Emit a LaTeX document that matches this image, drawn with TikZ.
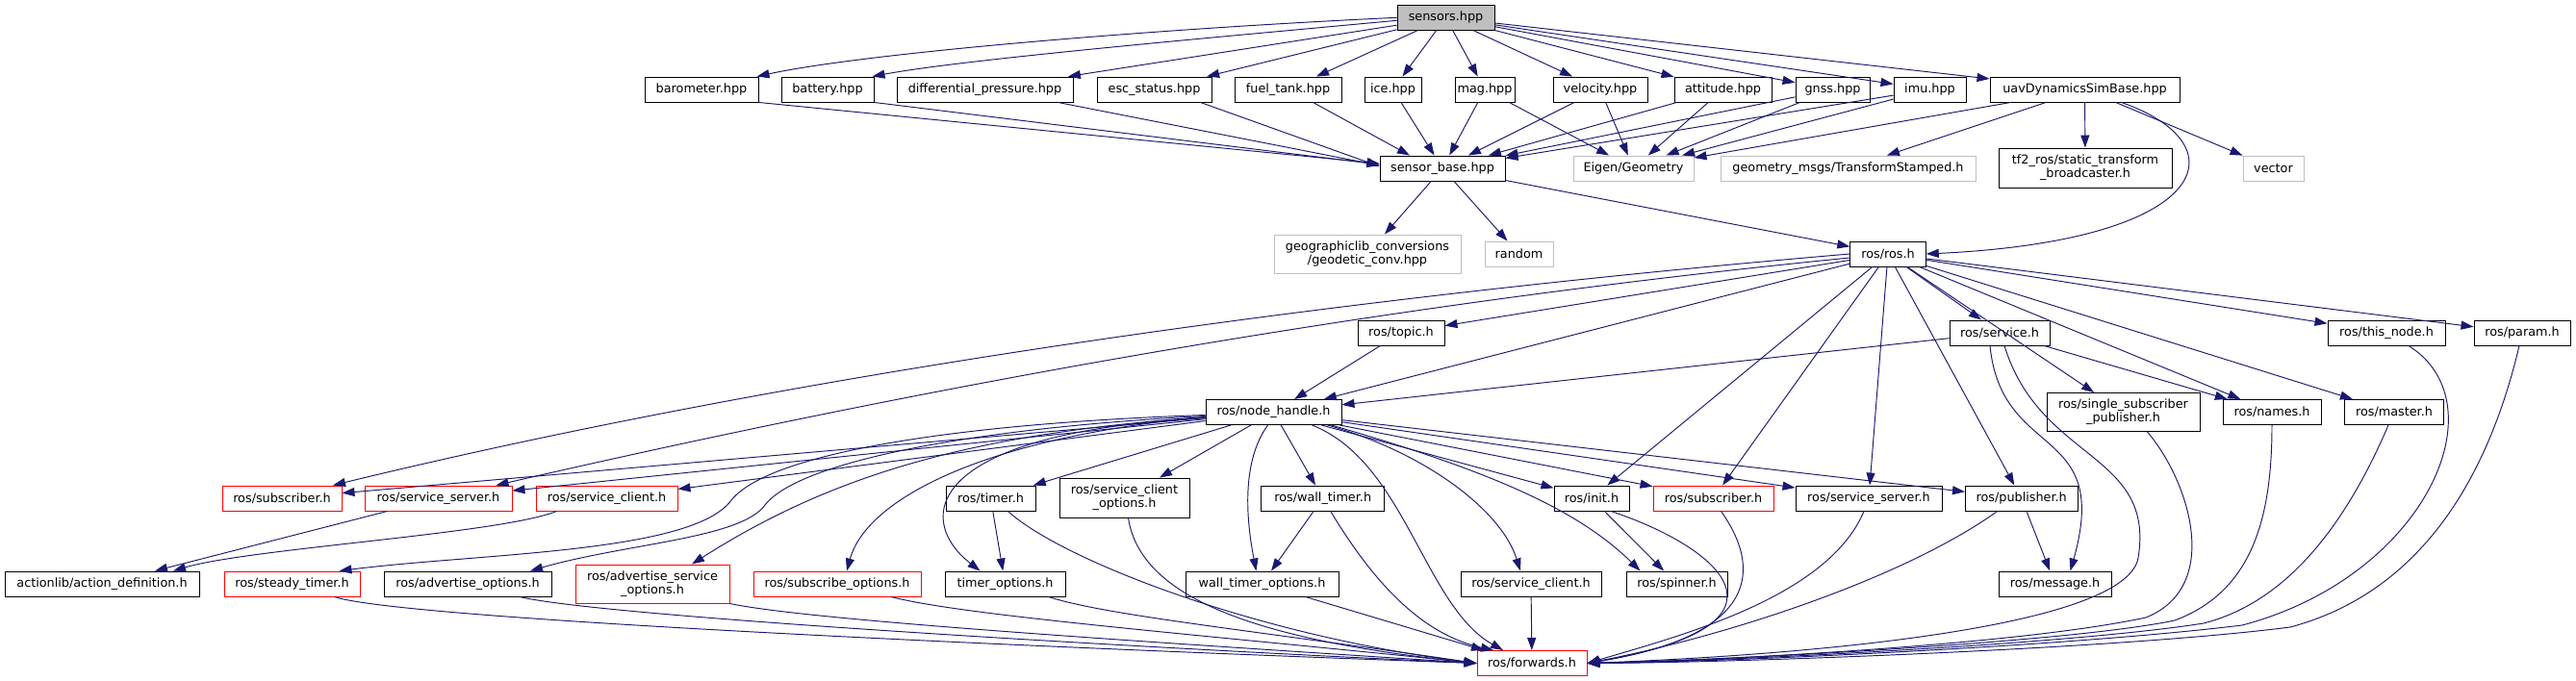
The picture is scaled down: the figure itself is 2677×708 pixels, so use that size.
\documentclass[tikz,border=0pt]{standalone}
\usepackage{fontspec}
\setmainfont{DejaVu Sans}
\usetikzlibrary{arrows.meta}
\definecolor{edgec}{HTML}{191970}
\definecolor{grayb}{HTML}{BFBFBF}
\definecolor{redb}{HTML}{FF0000}
\begin{document}
\begin{tikzpicture}[x=1pt,y=-1pt,
  box/.style={draw=black, line width=0.95pt, fill=white, inner sep=0pt, minimum height=26pt,
    font=\fontsize{12.8}{14.2}\selectfont, align=center},
  ext/.style={box, draw=grayb},
  redbox/.style={box, draw=redb},
  rootbox/.style={box, fill=grayb},
  e/.style={draw=edgec, line width=0.95pt, -{Triangle[length=13pt,width=9pt]}}
]
\fill[white] (0,0) rectangle (2677,708);
\useasboundingbox (0,0) rectangle (2677,708);

% row 1
\node[rootbox, minimum width=101pt] (sensors) at (1502.5,18.3) {sensors.hpp};
% row 2
\node[box, minimum width=118pt] (baro) at (729,93) {barometer.hpp};
\node[box, minimum width=96pt] (batt) at (860,93) {battery.hpp};
\node[box, minimum width=183pt] (diffp) at (1023.5,93) {differential\_pressure.hpp};
\node[box, minimum width=119pt] (esc) at (1199.5,93) {esc\_status.hpp};
\node[box, minimum width=111pt] (fuel) at (1338.5,93) {fuel\_tank.hpp};
\node[box, minimum width=59pt] (ice) at (1447.5,93) {ice.hpp};
\node[box, minimum width=62pt] (mag) at (1543,93) {mag.hpp};
\node[box, minimum width=98pt] (vel) at (1663,93) {velocity.hpp};
\node[box, minimum width=101pt] (att) at (1790.5,93) {attitude.hpp};
\node[box, minimum width=77pt] (gnss) at (1904.5,93) {gnss.hpp};
\node[box, minimum width=75pt] (imu) at (2005.5,93) {imu.hpp};
\node[box, minimum width=197pt] (uav) at (2166.5,93) {uavDynamicsSimBase.hpp};
% row 3
\node[box, minimum width=130pt] (sb) at (1499,175) {sensor\_base.hpp};
\node[ext, minimum width=125pt] (eigen) at (1697.5,175) {Eigen/Geometry};
\node[ext, minimum width=265pt] (gmsg) at (1920.5,175) {geometry\_msgs/TransformStamped.h};
\node[box, minimum width=180pt, minimum height=41pt] (tf2) at (2167,174.5) {tf2\_ros/static\_transform\\\_broadcaster.h};
\node[ext, minimum width=63pt] (vec) at (2362.5,175) {vector};
% row 4
\node[ext, minimum width=194pt, minimum height=40pt] (geo) at (1421,264) {geographiclib\_conversions\\/geodetic\_conv.hpp};
\node[ext, minimum width=71pt] (rand) at (1578.5,264) {random};
\node[box, minimum width=78.5pt] (ros) at (1962,264) {ros/ros.h};
% row 5
\node[box, minimum width=90pt] (topic) at (1456,346) {ros/topic.h};
\node[box, minimum width=104pt] (srv) at (2078,346) {ros/service.h};
\node[box, minimum width=122pt] (thisn) at (2480,346) {ros/this\_node.h};
\node[box, minimum width=100pt] (param) at (2621,346) {ros/param.h};
% row 6
\node[box, minimum width=141pt] (nh) at (1323.5,428.5) {ros/node\_handle.h};
\node[box, minimum width=159pt, minimum height=40pt] (ssp) at (2206.5,428.5) {ros/single\_subscriber\\\_publisher.h};
\node[box, minimum width=102pt] (names) at (2361,428.5) {ros/names.h};
\node[box, minimum width=103pt] (master) at (2488,428.5) {ros/master.h};
% row 7
\node[redbox, minimum width=124pt] (subL) at (293,518) {ros/subscriber.h};
\node[redbox, minimum width=153pt] (ssrvL) at (455.5,518) {ros/service\_server.h};
\node[redbox, minimum width=147pt] (sclL) at (630.5,518) {ros/service\_client.h};
\node[box, minimum width=93pt] (timer) at (1029.5,518) {ros/timer.h};
\node[box, minimum width=135pt, minimum height=41pt] (sco) at (1168.5,517.5) {ros/service\_client\\\_options.h};
\node[box, minimum width=128pt] (wt) at (1374.7,518) {ros/wall\_timer.h};
\node[box, minimum width=78pt] (init) at (1654,518) {ros/init.h};
\node[redbox, minimum width=125pt] (subR) at (1780.5,518) {ros/subscriber.h};
\node[box, minimum width=152pt] (ssrvR) at (1942,518) {ros/service\_server.h};
\node[box, minimum width=116.5pt] (pub) at (2100.7,518) {ros/publisher.h};
% row 8
\node[box, minimum width=202pt] (act) at (106,607) {actionlib/action\_definition.h};
\node[redbox, minimum width=141pt] (steady) at (303.5,607) {ros/steady\_timer.h};
\node[box, minimum width=174pt] (advo) at (486,607) {ros/advertise\_options.h};
\node[redbox, minimum width=160pt, minimum height=40pt] (aso) at (678,607) {ros/advertise\_service\\\_options.h};
\node[redbox, minimum width=174pt] (subo) at (870,607) {ros/subscribe\_options.h};
\node[box, minimum width=125pt] (tmo) at (1044.5,607) {timer\_options.h};
\node[box, minimum width=159pt] (wto) at (1311.5,607) {wall\_timer\_options.h};
\node[box, minimum width=146pt] (sclB) at (1591,607) {ros/service\_client.h};
\node[box, minimum width=105pt] (spin) at (1742.5,607) {ros/spinner.h};
\node[box, minimum width=117pt] (msg) at (2135.5,607) {ros/message.h};
% row 9
\node[redbox, minimum width=114pt] (fwd) at (1592,689.5) {ros/forwards.h};

% sensors.hpp -> row 2
\draw[e] (sensors.west) .. controls (1200,30) and (900,55) .. ([xshift=-2pt]baro.north east);
\draw[e] ([yshift=-3pt]sensors.west) .. controls (1250,40) and (1000,62) .. ([xshift=-2pt]batt.north east);
\foreach \t in {diffp,esc,fuel,ice,mag,vel,att,gnss,imu,uav}
  \draw[e] (sensors) -- (\t);
% row 2 -> sensor_base / Eigen
\draw[e] (baro.south east) -- ([yshift=5pt]sb.west);
\draw[e] (batt.south east) -- ([yshift=4pt]sb.west);
\draw[e] ([xshift=76pt]diffp.south) -- ([yshift=3pt]sb.west);
\draw[e] ([xshift=48pt]esc.south) -- ([yshift=2pt]sb.west);
\draw[e] ([xshift=26pt]fuel.south) -- ([xshift=-34pt]sb.north);
\foreach \s in {ice,mag,vel,att,gnss,imu}
  \draw[e] (\s) -- (sb);
\foreach \s in {mag,vel,att,gnss,imu,uav}
  \draw[e] (\s) -- (eigen);
% uavDynamicsSimBase
\draw[e] (uav) -- (gmsg);
\draw[e] (uav) -- (tf2);
\draw[e] (uav) -- (vec);
\draw[e] ([xshift=38pt]uav.south) .. controls (2330,150) and (2300,250) .. (ros.east);
% sensor_base
\draw[e] (sb) -- (geo);
\draw[e] (sb) -- (rand);
\draw[e] (sb) -- (ros);
% ros/ros.h
\draw[e] (ros.west) .. controls (1500,300) and (900,370) .. ([xshift=53pt]subL.north);
\draw[e] ([yshift=-4pt]ros.west) .. controls (1550,305) and (1100,370) .. ([xshift=60pt]ssrvL.north);
\foreach \t in {topic,nh,srv,init,subR,ssrvR,pub,ssp,names,master,thisn,param}
  \draw[e] (ros) -- (\t);
\draw[e] (topic) -- (nh);
% ros/service.h
\draw[e] (srv) -- (nh);
\draw[e] (srv) -- (names);
\draw[e] ([xshift=-10pt]srv.south) .. controls (2080,480) and (2195,440) .. ([xshift=16pt]msg.north);
\draw[e] ([xshift=5pt]srv.south) .. controls (2120,480) and (2240,470) .. (2222,580) .. controls (2210,650) and (1900,680) .. (fwd.east);
% right column -> forwards
\draw[e] ([xshift=25pt]ssp.south) .. controls (2275,500) and (2310,610) .. (2230,642) .. controls (2100,670) and (1800,686) .. (fwd.east);
\draw[e] (names.south) .. controls (2361,540) and (2340,615) .. (2260,645) .. controls (2150,668) and (1800,686) .. (fwd.east);
\draw[e] ([xshift=-6pt]master.south) .. controls (2440,540) and (2380,625) .. (2290,648) .. controls (2150,670) and (1800,687) .. (fwd.east);
\draw[e] ([xshift=23pt]thisn.south) .. controls (2600,420) and (2520,600) .. (2330,650) .. controls (2150,672) and (1800,688) .. (fwd.east);
\draw[e] ([xshift=-3pt]param.south) .. controls (2580,520) and (2500,620) .. (2380,652) .. controls (2200,675) and (1800,689) .. (fwd.east);
% ros/node_handle.h
\draw[e] (nh) -- (subL);
\draw[e] (nh) -- (ssrvL);
\draw[e] (nh) -- (sclL);
\draw[e] ([yshift=-3pt]nh.west) .. controls (1000,440) and (800,470) .. (760,520) .. controls (720,575) and (500,575) .. ([xshift=-22pt]steady.north east);
\draw[e] ([yshift=-4pt]nh.west) .. controls (1010,445) and (830,480) .. (795,525) .. controls (770,560) and (650,565) .. ([xshift=65pt]advo.north);
\draw[e] ([yshift=-5pt]nh.west) .. controls (1020,450) and (870,490) .. ([xshift=41pt]aso.north);
\draw[e] ([yshift=-5pt]nh.west) .. controls (1020,455) and (900,520) .. ([xshift=10pt]subo.north);
\draw[e] ([yshift=-6pt]nh.west) .. controls (960,450) and (950,540) .. ([xshift=-26pt]tmo.north);
\draw[e] (nh) -- (timer);
\draw[e] (nh) -- (sco);
\draw[e] (nh) -- (wt);
\draw[e] ([xshift=-6pt]nh.south) .. controls (1290,480) and (1295,540) .. ([xshift=-6pt]wto.north);
\draw[e] ([xshift=40pt]nh.south) .. controls (1460,480) and (1480,630) .. ([xshift=-30pt]fwd.north);
\draw[e] ([xshift=56pt]nh.south) .. controls (1480,470) and (1560,530) .. ([xshift=-11pt]sclB.north);
\draw[e] ([xshift=60pt]nh.south) .. controls (1550,490) and (1640,530) .. ([xshift=-38pt]spin.north);
\draw[e] (nh) -- (init);
\draw[e] (nh) -- (subR);
\draw[e] (nh) -- (ssrvR);
\draw[e] (nh) -- (pub);
% row 7 left
\draw[e] ([xshift=-53pt]ssrvL.south) -- ([xshift=55pt]act.north);
\draw[e] ([xshift=-52pt]sclL.south) .. controls (520,555) and (260,570) .. ([xshift=74pt]act.north);
% row 7 middle/right
\draw[e] (timer) -- (tmo);
\draw[e] ([xshift=18pt]timer.south) .. controls (1100,580) and (1300,660) .. (fwd.west);
\draw[e] ([xshift=4pt]sco.south) .. controls (1185,620) and (1300,665) .. (fwd.west);
\draw[e] (wt) -- (wto);
\draw[e] ([xshift=8pt]wt.south) .. controls (1430,610) and (1480,660) .. ([xshift=-40pt]fwd.north);
\draw[e] (wto) -- ([xshift=-50pt]fwd.north);
\draw[e] (sclB) -- (fwd);
\draw[e] (init) -- (spin);
\draw[e] ([xshift=20pt]init.south) .. controls (1790,570) and (1880,650) .. (fwd.east);
\draw[e] ([xshift=8pt]subR.south) .. controls (1830,590) and (1830,660) .. (fwd.east);
\draw[e] ([xshift=-5pt]ssrvR.south) .. controls (1900,620) and (1750,660) .. (fwd.east);
\draw[e] (pub) -- (msg);
\draw[e] ([xshift=-25pt]pub.south) .. controls (1980,600) and (1800,660) .. (fwd.east);
% row 8 -> forwards
\draw[e] ([xshift=44pt]steady.south) .. controls (420,645) and (1150,676) .. (fwd.west);
\draw[e] ([xshift=54pt]advo.south) .. controls (620,640) and (1150,672) .. (fwd.west);
\draw[e] (aso.south east) .. controls (840,645) and (1200,668) .. (fwd.west);
\draw[e] ([xshift=56pt]subo.south) .. controls (1000,640) and (1250,660) .. (fwd.west);
\draw[e] ([xshift=45pt]tmo.south) .. controls (1150,640) and (1300,655) .. (fwd.west);
\end{tikzpicture}
\end{document}
